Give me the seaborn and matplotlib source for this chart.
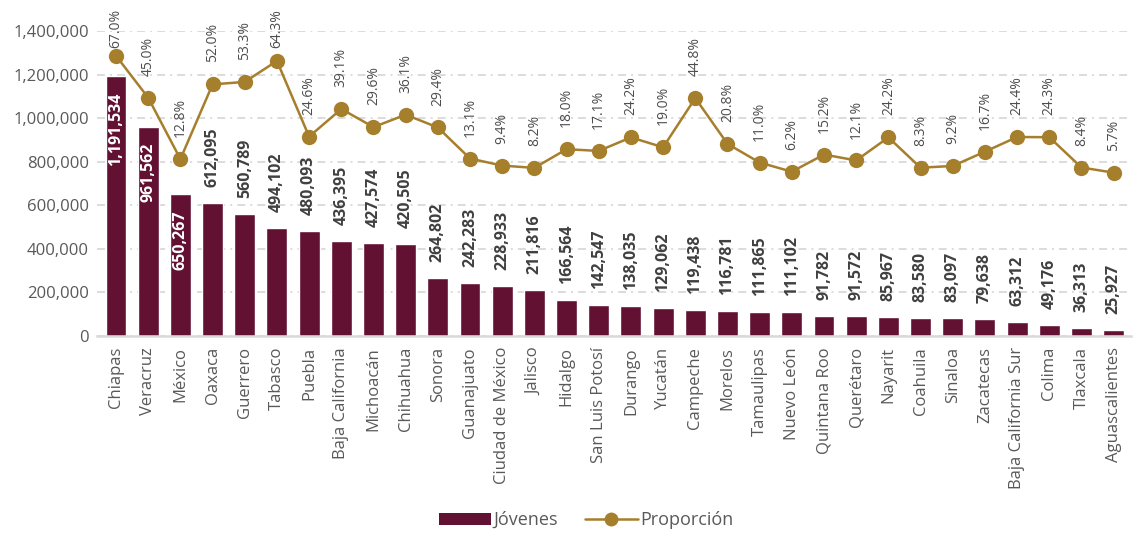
import matplotlib
matplotlib.use("Agg")
import matplotlib.pyplot as plt
from matplotlib.lines import Line2D
from matplotlib.patches import Patch
import numpy as np
import pandas as pd
import seaborn as sns

sns.set_theme(style="white")
plt.rcParams["font.family"] = ["Open Sans", "DejaVu Sans"]

BAR_COLOR = "#621132"
LINE_COLOR = "#A67F2D"
TEXT_GRAY = "#595959"
LABEL_DARK = "#404040"
GRID_GRAY = "#D9D9D9"

estados = [
    "Chiapas", "Veracruz", "México", "Oaxaca", "Guerrero", "Tabasco", "Puebla",
    "Baja California", "Michoacán", "Chihuahua", "Sonora", "Guanajuato",
    "Ciudad de México", "Jalisco", "Hidalgo", "San Luis Potosí", "Durango",
    "Yucatán", "Campeche", "Morelos", "Tamaulipas", "Nuevo León",
    "Quintana Roo", "Querétaro", "Nayarit", "Coahuila", "Sinaloa", "Zacatecas",
    "Baja California Sur", "Colima", "Tlaxcala", "Aguascalientes",
]
jovenes = [
    1191534, 961562, 650267, 612095, 560789, 494102, 480093, 436395, 427574,
    420505, 264802, 242283, 228933, 211816, 166564, 142547, 138035, 129062,
    119438, 116781, 111865, 111102, 91782, 91572, 85967, 83580, 83097, 79638,
    63312, 49176, 36313, 25927,
]
proporcion = [
    67.0, 45.0, 12.8, 52.0, 53.3, 64.3, 24.6, 39.1, 29.6, 36.1, 29.4, 13.1,
    9.4, 8.2, 18.0, 17.1, 24.2, 19.0, 44.8, 20.8, 11.0, 6.2, 15.2, 12.1, 24.2,
    8.3, 9.2, 16.7, 24.4, 24.3, 8.4, 5.7,
]
y_ticks = [0, 200000, 400000, 600000, 800000, 1000000, 1200000, 1400000]

df = pd.DataFrame({"estado": estados, "jovenes": jovenes, "proporcion": proporcion})
pos = np.arange(len(df))

fig = plt.figure(figsize=(11.35, 5.33), dpi=100)
ax = fig.add_axes([0.0855, 0.3696, 0.911, 0.5722])

sns.barplot(data=df, x="estado", y="jovenes", color=BAR_COLOR, width=0.65,
            saturation=1, ax=ax, zorder=2)
ax.set_xlim(-0.59, len(df) - 0.46)
ax.set_ylim(0, 1400000)
ax.set_yticks(y_ticks)
ax.set_yticklabels([f"{v:,}" for v in y_ticks])
ax.set_xlabel("")
ax.set_ylabel("")
ax.tick_params(axis="y", labelsize=12, labelcolor=TEXT_GRAY, length=0, pad=6)
ax.tick_params(axis="x", labelsize=12, labelcolor=TEXT_GRAY, length=0, pad=8,
               labelrotation=90)
ax.yaxis.grid(True, color=GRID_GRAY, lw=1.3, linestyle=(0, (4.4, 2.8, 1.1, 2.8)))
ax.set_axisbelow(True)
for s in ("top", "right", "left"):
    ax.spines[s].set_visible(False)
ax.spines["bottom"].set_color(GRID_GRAY)
ax.spines["bottom"].set_linewidth(1.8)

# value labels: inside the tallest bars, above the rest
for i, v in enumerate(df["jovenes"]):
    if v > 640000:
        ax.annotate(f"{v:,}", (i, v), xytext=(0, -11.5), textcoords="offset points",
                    rotation=90, ha="center", va="top", color="white",
                    fontsize=11.5, fontweight="bold")
    else:
        ax.annotate(f"{v:,}", (i, v), xytext=(0, 11.5), textcoords="offset points",
                    rotation=90, ha="center", va="bottom", color=LABEL_DARK,
                    fontsize=11.5, fontweight="bold")

ax2 = ax.twinx()
sns.lineplot(x=pos, y=df["proporcion"], ax=ax2, color=LINE_COLOR, lw=1.8,
             marker="o", markersize=11, markeredgewidth=0, zorder=3)
ax2.set_ylim(-80, 80)
ax2.set_yticks([])
ax2.set_ylabel("")
for s in ax2.spines.values():
    s.set_visible(False)

for i, p in enumerate(df["proporcion"]):
    ax2.text(i, min(p + 11.5, 71), f"{p:.1f}%", rotation=90, ha="center",
             va="bottom", color="#4D4D4D", fontsize=10, clip_on=False)

handles = [
    Patch(facecolor=BAR_COLOR, edgecolor="none"),
    Line2D([0], [0], color=LINE_COLOR, lw=1.8, marker="o", markersize=10,
           markeredgewidth=0),
]
fig.legend(handles, ["Jóvenes", "Proporción"], loc="center",
           bbox_to_anchor=(586 / 1135, 0.024), ncol=2, frameon=False,
           fontsize=13, labelcolor=TEXT_GRAY, handlelength=2.9,
           handleheight=0.6, handletextpad=0.15, columnspacing=1.5)

fig.savefig("out.png", dpi=100)
